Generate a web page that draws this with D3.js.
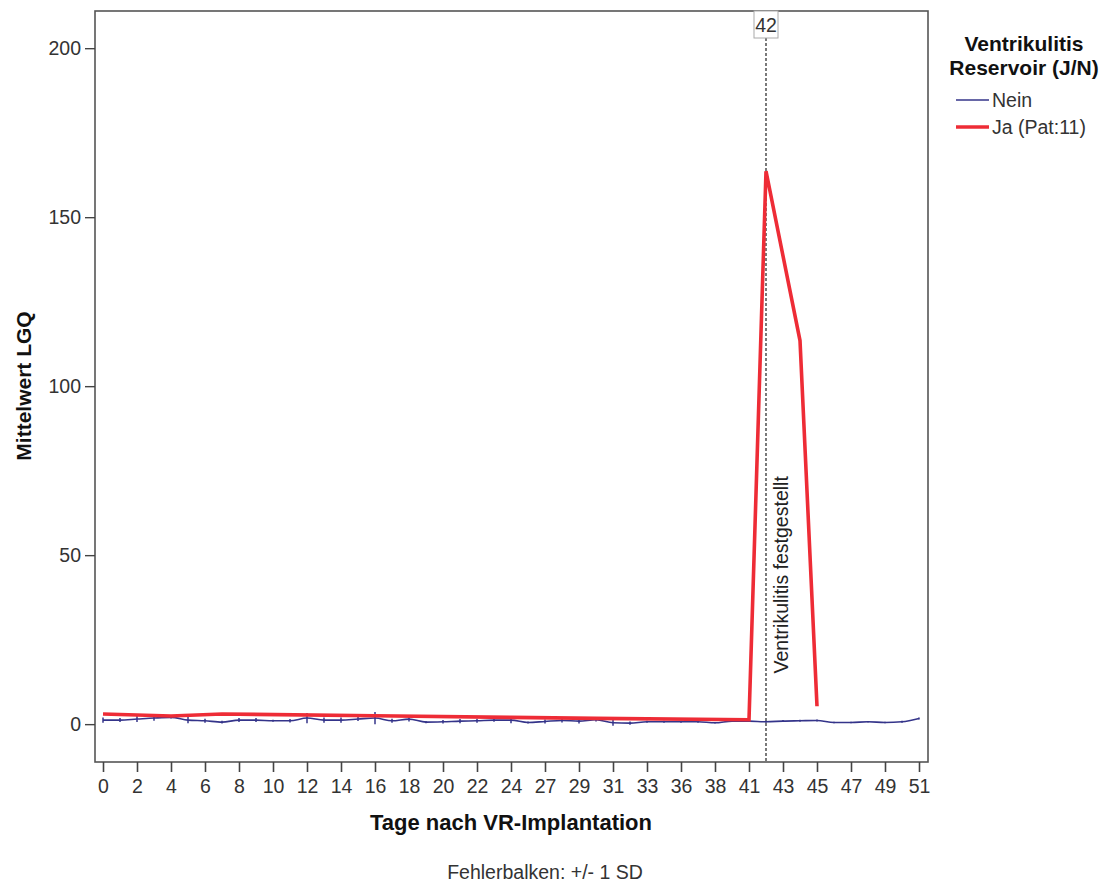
<!DOCTYPE html>
<html>
<head>
<meta charset="utf-8">
<script src="https://cdn.jsdelivr.net/npm/d3@7"></script>
<style>
  body { margin: 0; background: #fff; }
  svg { font-family: "Liberation Sans", Arial, sans-serif; }
</style>
</head>
<body>
<svg id="chart" width="1106" height="882"></svg>
<script>
// Days after VR implantation present in the data (categorical axis)
const days = [0,1,2,3,4,5,6,7,8,9,10,11,12,13,14,15,16,17,18,19,20,21,22,23,24,
              26,27,28,29,30,31,32,33,35,36,37,38,40,41,42,43,44,45,46,47,48,49,50,51];
// Tick labels shown (every other category)
const tickDays = [0,2,4,6,8,10,12,14,16,18,20,22,24,27,29,31,33,36,38,41,43,45,47,49,51];

// Group "Nein": mean LGQ per day and standard deviation
const neinMean = [1.2,1.2,1.5,1.8,2.0,1.2,1.0,0.6,1.2,1.2,1.0,1.0,1.8,1.2,1.2,1.5,1.8,1.0,1.5,0.6,
                  0.7,0.9,1.0,1.2,1.2,0.5,0.8,1.1,0.9,1.3,0.4,0.3,0.7,0.7,0.7,0.7,0.4,0.9,0.9,
                  0.7,0.9,1.0,1.1,0.5,0.5,0.7,0.5,0.7,1.7];
const neinSD   = [0.8,0.6,0.9,0.8,0.3,0.9,0.6,0.4,0.6,0.6,0.3,0.5,1.5,0.8,0.8,0.6,1.8,0.6,0.7,0.3,
                  0.5,0.6,0.6,0.5,0.9,0.3,0.6,0.6,0.7,0.5,0.9,0.5,0.3,0.3,0.3,0.3,0.2,0.3,0.3,
                  0.3,0.3,0.3,0.3,0.2,0.2,0.2,0.2,0.3,0.3];

// Group "Ja (Pat:11)": single patient values
const jaDays  = [0, 4, 7, 16, 24, 30, 41, 42, 44, 45];
const jaValue = [3.0, 2.4, 3.0, 2.5, 2.0, 1.7, 1.3, 163.6, 113.5, 5.3];

const yTicks = [0, 50, 100, 150, 200];
const markerDay = 42;
const markerText = "Ventrikulitis festgestellt";

const blue = "#34348a", red = "#ee2c36";
const FS = 19.5, FSB = 22;

const svg = d3.select("#chart");
const L = 95, R = 928, T = 11, B = 762;

const x = d3.scalePoint().domain(days).range([103, 919]);
const y = d3.scaleLinear().domain([-11.2, 211]).range([B, T]);

// Frame
svg.append("rect").attr("x", L).attr("y", T).attr("width", R - L).attr("height", B - T)
  .attr("fill", "none").attr("stroke", "#555").attr("stroke-width", 1.6);

// Y axis
const yAxis = svg.append("g").attr("transform", `translate(${L},0)`)
  .call(d3.axisLeft(y).tickValues(yTicks).tickSize(10).tickPadding(4));
yAxis.select(".domain").remove();
yAxis.selectAll("line").attr("stroke", "#444").attr("stroke-width", 1.4);
yAxis.selectAll("text").attr("font-size", FS).attr("fill", "#333")
  .attr("font-family", "Liberation Sans, Arial, sans-serif");

// X axis
const xAxis = svg.append("g").attr("transform", `translate(0,${B})`)
  .call(d3.axisBottom(x).tickValues(tickDays).tickSize(10).tickPadding(7));
xAxis.select(".domain").remove();
xAxis.selectAll("line").attr("stroke", "#444").attr("stroke-width", 1.6);
xAxis.selectAll("text").attr("font-size", FS).attr("fill", "#333")
  .attr("font-family", "Liberation Sans, Arial, sans-serif");

// Axis titles
svg.append("text").attr("x", 511).attr("y", 830).attr("text-anchor", "middle")
  .attr("font-size", FSB).attr("font-weight", "bold").attr("fill", "#111")
  .text("Tage nach VR-Implantation");
svg.append("text").attr("transform", "translate(31,386) rotate(-90)")
  .attr("text-anchor", "middle").attr("font-size", 21).attr("font-weight", "bold").attr("fill", "#111")
  .text("Mittelwert LGQ");
svg.append("text").attr("x", 545).attr("y", 879).attr("text-anchor", "middle")
  .attr("font-size", FS).attr("fill", "#333").text("Fehlerbalken: +/- 1 SD");

// Reference line at day 42
const mx = x(markerDay);
svg.append("line").attr("x1", mx).attr("x2", mx).attr("y1", 38).attr("y2", B)
  .attr("stroke", "#222").attr("stroke-width", 1.2).attr("stroke-dasharray", "3,2");
svg.append("rect").attr("x", mx - 12).attr("y", 11).attr("width", 24).attr("height", 27)
  .attr("fill", "#fff").attr("stroke", "#aaa").attr("stroke-width", 1);
svg.append("text").attr("x", mx).attr("y", 32).attr("text-anchor", "middle")
  .attr("font-size", FS).attr("fill", "#333").text(markerDay);
svg.append("text").attr("transform", `translate(${mx + 22},${y(15)}) rotate(-90)`)
  .attr("text-anchor", "start").attr("font-size", FS).attr("fill", "#222").text(markerText);

// Nein series with error bars
const neinData = days.map((d, i) => ({ d, m: neinMean[i], s: neinSD[i] }));
svg.append("g").selectAll("line").data(neinData).join("line")
  .attr("x1", p => x(p.d)).attr("x2", p => x(p.d))
  .attr("y1", p => y(p.m - p.s)).attr("y2", p => y(p.m + p.s))
  .attr("stroke", blue).attr("stroke-width", 1.5);
svg.append("path").datum(neinData)
  .attr("d", d3.line().x(p => x(p.d)).y(p => y(p.m)).curve(d3.curveMonotoneX))
  .attr("fill", "none").attr("stroke", blue).attr("stroke-width", 1.6);

// Ja series
const jaData = jaDays.map((d, i) => ({ d, v: jaValue[i] }));
svg.append("path").datum(jaData)
  .attr("d", d3.line().x(p => x(p.d)).y(p => y(p.v)))
  .attr("fill", "none").attr("stroke", red).attr("stroke-width", 3.6)
  .attr("stroke-linejoin", "miter");

// Legend
const lg = svg.append("g");
lg.append("text").attr("x", 1024).attr("y", 51).attr("text-anchor", "middle")
  .attr("font-size", 21).attr("font-weight", "bold").attr("fill", "#111").text("Ventrikulitis");
lg.append("text").attr("x", 1024).attr("y", 75).attr("text-anchor", "middle")
  .attr("font-size", 21).attr("font-weight", "bold").attr("fill", "#111").text("Reservoir (J/N)");
const items = [{ name: "Nein", c: blue, w: 1.6 }, { name: "Ja (Pat:11)", c: red, w: 3.6 }];
items.forEach((it, i) => {
  const yy = 100 + i * 27;
  lg.append("line").attr("x1", 956).attr("x2", 989).attr("y1", yy).attr("y2", yy)
    .attr("stroke", it.c).attr("stroke-width", it.w);
  lg.append("text").attr("x", 992).attr("y", yy + 7).attr("font-size", FS).attr("fill", "#333").text(it.name);
});
</script>
</body>
</html>
